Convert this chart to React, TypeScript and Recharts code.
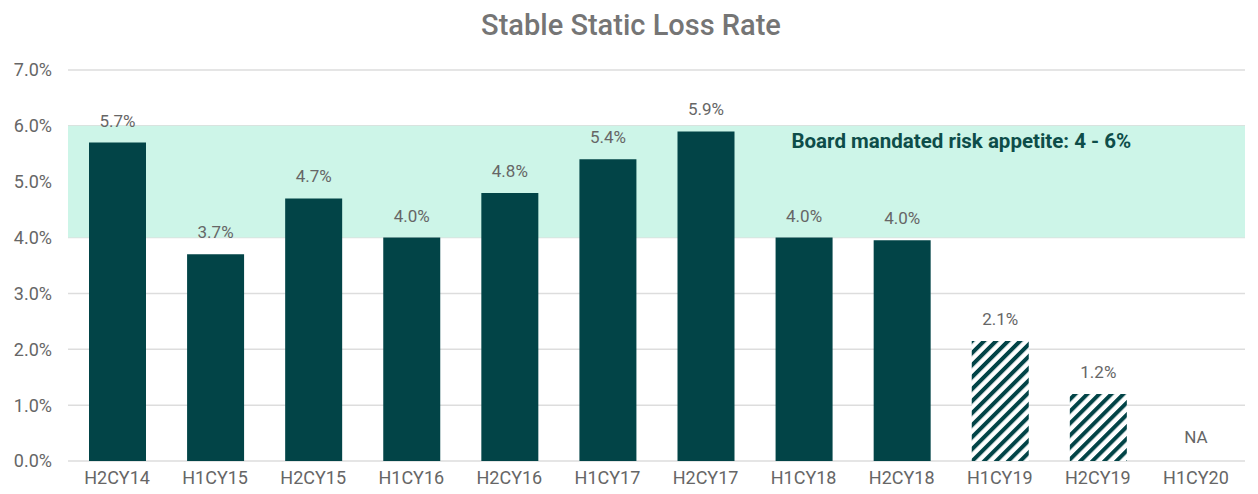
import { BarChart, Bar, XAxis, YAxis, CartesianGrid, ReferenceArea, ReferenceDot, LabelList, Cell } from "recharts";

const PERIODS = ["H2CY14", "H1CY15", "H2CY15", "H1CY16", "H2CY16", "H1CY17", "H2CY17", "H1CY18", "H2CY18", "H1CY19", "H2CY19", "H1CY20"];
const LOSS_RATE: (number | null)[] = [5.7, 3.7, 4.7, 4.0, 4.8, 5.4, 5.9, 4.0, 3.95, 2.15, 1.2, null];
const LABELS = ["5.7%", "3.7%", "4.7%", "4.0%", "4.8%", "5.4%", "5.9%", "4.0%", "4.0%", "2.1%", "1.2%", "NA"];
const PROJECTED = [false, false, false, false, false, false, false, false, false, true, true, false];
const Y_TICKS = [0, 1, 2, 3, 4, 5, 6, 7];
const APPETITE_LOW = 4;
const APPETITE_HIGH = 6;

const DARK = "#024447";
const BAND = "#cdf5e8";
const GRAY = "#666666";

const data = PERIODS.map((p, i) => ({
  period: p,
  rate: LOSS_RATE[i],
  label: LABELS[i],
}));

// periods with no value get an "NA" note sitting on the zero line
const missing = data.filter((d) => d.rate === null);

function BandLabel(props: any) {
  const vb = props.viewBox;
  if (!vb) return null;
  return (
    <text
      x={vb.x + vb.width * 0.759}
      y={vb.y + 15}
      textAnchor="middle"
      dominantBaseline="central"
      fill="#0d4d49"
      style={{ fontSize: 20.5, fontWeight: 700 }}
    >
      Board mandated risk appetite: {APPETITE_LOW} - {APPETITE_HIGH}%
    </text>
  );
}

export default function App() {
  return (
    <div style={{ position: "absolute", left: 0, top: 0, width: 1258, height: 494, background: "#fff", fontFamily: "Roboto, sans-serif" }}>
      <div
        style={{
          position: "absolute",
          left: 0,
          top: 8,
          width: 1262,
          textAlign: "center",
          fontSize: 29,
          fontWeight: 500,
          color: "#757575",
        }}
      >
        Stable Static Loss Rate
      </div>
      <BarChart
        width={1258}
        height={494}
        data={data}
        margin={{ top: 70, right: 13, bottom: 0, left: 0 }}
        barSize={57}
      >
        <defs>
          <pattern id="hatch" patternUnits="userSpaceOnUse" width="8.5" height="8.5" patternTransform="rotate(45)">
            <rect width="8.5" height="8.5" fill="#ffffff" />
            <rect width="4" height="8.5" fill={DARK} />
          </pattern>
        </defs>
        <CartesianGrid vertical={false} stroke="#dddddd" strokeWidth={1.5} />
        <ReferenceArea
          y1={APPETITE_LOW}
          y2={APPETITE_HIGH}
          fill={BAND}
          fillOpacity={1}
          stroke="none"
          label={<BandLabel />}
        />
        <XAxis
          dataKey="period"
          axisLine={false}
          tickLine={false}
          height={33}
          tick={{ fontSize: 18, fill: GRAY }}
          dy={2}
        />
        <YAxis
          domain={[0, 7]}
          ticks={Y_TICKS}
          width={68}
          axisLine={false}
          tickLine={false}
          tickFormatter={(v: number) => `${v.toFixed(1)}%`}
          tick={{ fontSize: 18, fill: GRAY }}
          dx={-8}
        />
        <Bar dataKey="rate" fill={DARK} isAnimationActive={false}>
          {data.map((d, i) => (
            <Cell key={d.period} fill={PROJECTED[i] ? "url(#hatch)" : DARK} />
          ))}
          <LabelList
            dataKey="label"
            position="top"
            offset={16}
            style={{ fontSize: 17, fill: GRAY }}
          />
        </Bar>
        {missing.map((d) => (
          <ReferenceDot
            key={d.period}
            x={d.period}
            y={0}
            r={0}
            fill="none"
            stroke="none"
            label={{ value: d.label, position: "top", offset: 18, style: { fontSize: 17, fill: GRAY } }}
          />
        ))}
      </BarChart>
    </div>
  );
}
